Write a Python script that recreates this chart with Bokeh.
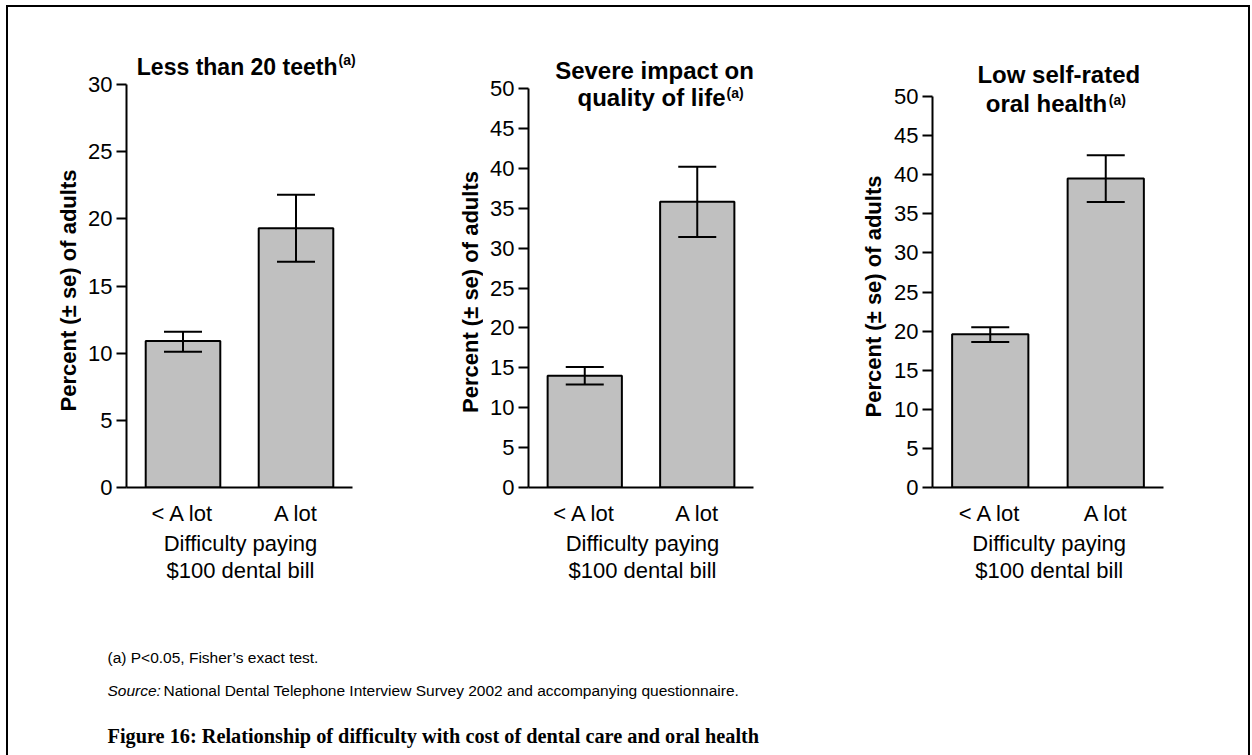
import math
from bokeh.plotting import figure
from bokeh.layouts import row, column
from bokeh.models import (ColumnDataSource, Range1d, FixedTicker,
                          Whisker, TeeHead, Label)
from bokeh.embed import file_html
from bokeh.resources import INLINE

# ---------------- data ----------------
categories = ["< A lot", "A lot"]

teeth_pct = [10.9, 19.3]
teeth_lower = [10.1, 16.8]
teeth_upper = [11.6, 21.8]

qol_pct = [14.0, 35.8]
qol_lower = [12.9, 31.4]
qol_upper = [15.1, 40.2]

oral_pct = [19.6, 39.5]
oral_lower = [18.6, 36.5]
oral_upper = [20.5, 42.5]

y_max = [30, 50, 50]
y_step = 5

title_1 = ["Less than 20 teeth"]
title_2 = ["Severe impact on", "quality of life"]
title_3 = ["Low self-rated", "oral health"]
sup_text = "(a)"
y_label = "Percent (\u00b1 se) of adults"
x_label_lines = ["Difficulty paying", "$100 dental bill"]
footnote = "(a) P<0.05, Fisher\u2019s exact test."
source_head = "Source:"
source_text = "National Dental Telephone Interview Survey 2002 and accompanying questionnaire."
caption = "Figure 16: Relationship of difficulty with cost of dental care and oral health"

SANS = "Liberation Sans"
SERIF = "Liberation Serif"
BAR_FILL = "#c0c0c0"

# ---------------- layout (page pixels) ----------------
PAGE_LEFT = 8
PAGE_TOP = 7          # top of the figures inside the border
FRAME_TOP = 40        # common top of the plotting frames
FRAME_BOTTOM = 487    # common x-axis line
MBB = 42
FIG_H = FRAME_BOTTOM - PAGE_TOP + MBB
MBT = FRAME_TOP - PAGE_TOP
EXT_PX = 25           # frame extends a little right of the x-axis line
BASE_SHIFT = 0.33     # alphabetic-baseline correction (in em)
SUP_SIZE = 14
YLAB_SIZE = 22
XLAB_SIZE = 22


def ylabel_fig(fig_left, fig_right, baseline_x, center_y):
    width = fig_right - fig_left
    f = figure(width=width, height=FIG_H,
               x_range=Range1d(fig_left, fig_right),
               y_range=Range1d(FRAME_BOTTOM, FRAME_TOP),
               min_border_left=0, min_border_right=0,
               min_border_top=MBT, min_border_bottom=MBB,
               x_axis_location=None, y_axis_location=None,
               output_backend="svg", toolbar_location=None, tools="")
    f.xgrid.visible = False
    f.ygrid.visible = False
    f.outline_line_color = None
    f.add_layout(Label(x=baseline_x - BASE_SHIFT * YLAB_SIZE, y=center_y, text=y_label,
                       angle=math.pi / 2, text_align="center",
                       text_baseline="alphabetic", text_font=SANS,
                       text_font_style="bold", text_font_size=f"{YLAB_SIZE}px",
                       text_color="black"))
    return f


def make_panel(pct, lower, upper, ymax, fig_left, fig_right, axis_left, axis_right,
               axis_top_px, titles, sup_pos, title_size):
    n = len(categories)
    sy = (FRAME_BOTTOM - axis_top_px) / ymax           # px per y unit
    y_end = (FRAME_BOTTOM - FRAME_TOP) / sy
    sx = (axis_right - axis_left) / n                  # px per x unit
    x_end = n + EXT_PX / sx
    mbl = axis_left - fig_left
    mbr = fig_right - (axis_right + EXT_PX)

    def vy(px):
        return (FRAME_BOTTOM - px) / sy

    def vx(px):
        return (px - axis_left) / sx

    xs = [i + 0.5 for i in range(n)]
    src = ColumnDataSource(dict(x=xs, cat=categories, pct=pct, lower=lower, upper=upper))
    p = figure(x_range=Range1d(0, x_end), y_range=Range1d(0, y_end),
               width=fig_right - fig_left, height=FIG_H,
               min_border_left=mbl, min_border_right=mbr,
               min_border_top=MBT, min_border_bottom=MBB,
               output_backend="svg", toolbar_location=None, tools="")
    p.vbar(x="x", top="pct", width=0.66, source=src, fill_color=BAR_FILL,
           line_color="black", line_width=2)
    head = dict(size=38, line_width=2, line_color="black")
    p.add_layout(Whisker(base="x", lower="lower", upper="upper", source=src,
                         line_width=2, line_color="black", level="overlay",
                         upper_head=TeeHead(**head), lower_head=TeeHead(**head)))
    p.xgrid.visible = False
    p.ygrid.visible = False
    p.outline_line_color = None
    p.background_fill_color = "white"
    p.border_fill_color = "white"

    ya = p.yaxis[0]
    ya.bounds = (0, ymax)
    ya.ticker = FixedTicker(ticks=list(range(0, ymax + 1, y_step)))
    ya.major_tick_out = 10
    ya.major_tick_in = 0
    ya.minor_tick_out = 0
    ya.minor_tick_in = 0
    ya.axis_line_width = 2
    ya.major_tick_line_width = 2
    ya.major_label_text_font = SANS
    ya.major_label_text_font_size = "22px"
    ya.major_label_text_color = "black"
    ya.major_label_standoff = 4

    xa = p.xaxis[0]
    xa.bounds = (0, n)
    xa.ticker = FixedTicker(ticks=xs)
    xa.major_label_overrides = {x: c for x, c in zip(xs, categories)}
    xa.major_tick_out = 0
    xa.major_tick_in = 0
    xa.minor_tick_out = 0
    xa.minor_tick_in = 0
    xa.axis_line_width = 2
    xa.major_label_text_font = SANS
    xa.major_label_text_font_size = "22px"
    xa.major_label_text_color = "black"
    xa.major_label_standoff = 13

    fs = float(title_size.replace("px", ""))
    for txt, (tx_px, ty_px, align) in titles:
        p.add_layout(Label(x=vx(tx_px), y=vy(ty_px - BASE_SHIFT * fs), text=txt,
                           text_align=align, text_baseline="alphabetic", text_font=SANS,
                           text_font_style="bold", text_font_size=title_size,
                           text_color="black"))
    p.add_layout(Label(x=vx(sup_pos[0]), y=vy(sup_pos[1] - BASE_SHIFT * SUP_SIZE),
                       text=sup_text, text_align="left", text_baseline="alphabetic",
                       text_font=SANS, text_font_style="bold",
                       text_font_size=f"{SUP_SIZE}px", text_color="black"))
    return p


# panel 1: label strip 8..81, plot 81..420 (axis 126..352)
l1 = ylabel_fig(8, 81, 75.5, 290)
p1 = make_panel(teeth_pct, teeth_lower, teeth_upper, y_max[0], 81, 420, 126, 352, 84,
                [(title_1[0], (337, 74, "right"))], (338, 64), "23px")

# panel 2: label strip 420..483, plot 483..820 (axis 528..753)
l2 = ylabel_fig(420, 483, 477.5, 291.5)
p2 = make_panel(qol_pct, qol_lower, qol_upper, y_max[1], 483, 820, 528, 753, 88,
                [(title_2[0], (654, 78, "center")),
                 (title_2[1], (725, 105, "right"))], (726, 97), "24px")

# panel 3: label strip 820..887, plot 887..1248 (axis 932..1163)
l3 = ylabel_fig(820, 887, 880, 296)
p3 = make_panel(oral_pct, oral_lower, oral_upper, y_max[2], 887, 1248, 932, 1163, 96,
                [(title_3[0], (1058.3, 81.7, "center")),
                 (title_3[1], (1106.7, 110.7, "right"))], (1108.3, 104), "24px")

# lower area: x-axis titles, footnotes and caption
NOTES_TOP = PAGE_TOP + FIG_H
NOTES_H = 755 - NOTES_TOP
notes = figure(width=1240, height=NOTES_H, x_range=Range1d(PAGE_LEFT, PAGE_LEFT + 1240),
               y_range=Range1d(755, NOTES_TOP),
               min_border=0, output_backend="svg", toolbar_location=None, tools="",
               x_axis_location=None, y_axis_location=None)
notes.xgrid.visible = False
notes.ygrid.visible = False
notes.outline_line_color = None

for cx in (240, 642, 1048.7):
    for txt, base in zip(x_label_lines, (550, 577)):
        notes.add_layout(Label(x=cx, y=base - BASE_SHIFT * XLAB_SIZE, text=txt,
                               text_align="center", text_baseline="alphabetic",
                               text_font=SANS, text_font_size=f"{XLAB_SIZE}px",
                               text_color="black"))

notes.add_layout(Label(x=107, y=657, text=footnote, text_font=SANS,
                       text_font_size="15.5px", text_baseline="alphabetic",
                       text_color="black"))
notes.add_layout(Label(x=107, y=690, text=source_head, text_font=SANS,
                       text_font_size="15.5px", text_font_style="italic",
                       text_baseline="alphabetic", text_color="black"))
notes.add_layout(Label(x=163, y=690, text=source_text, text_font=SANS,
                       text_font_size="15.5px", text_baseline="alphabetic",
                       text_color="black"))
notes.add_layout(Label(x=107, y=735, text=caption, text_font=SERIF,
                       text_font_size="20.3px", text_font_style="bold",
                       text_baseline="alphabetic", text_color="black"))

layout = column(row(l1, p1, l2, p2, l3, p3), notes, margin=(5, 0, 0, 6),
                styles={"border": "2px solid black", "border-bottom": "none"})

open("out.html", "w").write(file_html(layout, INLINE))
